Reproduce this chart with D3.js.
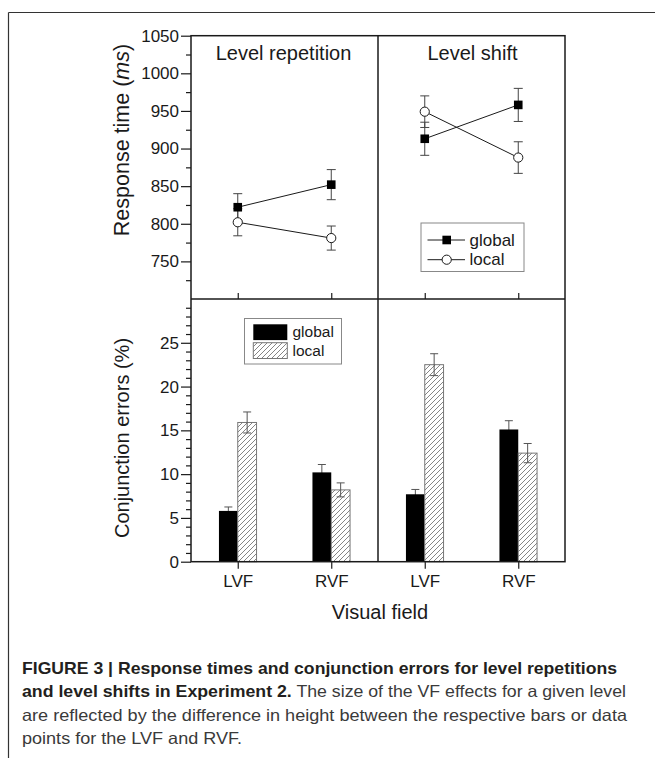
<!DOCTYPE html>
<html>
<head>
<meta charset="utf-8">
<script src="https://cdn.jsdelivr.net/npm/d3@7"></script>
<style>
  body { margin: 0; background: #fff; }
  svg { display: block; font-family: "Liberation Sans", Arial, sans-serif; }
</style>
</head>
<body>
<script>
// values
var fields = ["LVF", "RVF"];
var conditions = ["Level repetition", "Level shift"];
var levels = ["global", "local"];

// response times (ms), [condition][field]
var rtGlobal = [[822, 852], [913, 958]];
var rtGlobalErr = [[18, 20], [22, 22]];
var rtLocal = [[802, 781], [949, 888]];
var rtLocalErr = [[18, 16], [21, 21]];

// conjunction errors (%), [condition][field]
var ceGlobal = [[5.8, 10.2], [7.7, 15.1]];
var ceGlobalErr = [[0.45, 0.9], [0.55, 1.0]];
var ceLocal = [[15.9, 8.2], [22.5, 12.4]];
var ceLocalErr = [[1.2, 0.8], [1.25, 1.1]];

var rtMajor = [750, 800, 850, 900, 950, 1000, 1050];
var ceMajor = [0, 5, 10, 15, 20, 25];

var captionLines = [
  [{t: "FIGURE 3 | Response times and conjunction errors for level repetitions", b: true}],
  [{t: "and level shifts in Experiment 2.", b: true}, {t: " The size of the VF effects for a given level", b: false}],
  [{t: "are reflected by the difference in height between the respective bars or data", b: false}],
  [{t: "points for the LVF and RVF.", b: false}]
];
var captionEnds = [617, 626, 627, 242];

var width = 655, height = 758;
var ink = "#1a1a1a";

var svg = d3.select("body").append("svg")
    .attr("width", width)
    .attr("height", height);

var defs = svg.append("defs");
var hatch = defs.append("pattern")
    .attr("id", "hatch")
    .attr("patternUnits", "userSpaceOnUse")
    .attr("width", 5)
    .attr("height", 5);
hatch.append("rect").attr("width", 5).attr("height", 5).attr("fill", "#fff");
hatch.append("path")
    .attr("d", "M-1,1 L1,-1 M0,5 L5,0 M4,6 L6,4")
    .attr("stroke", "#666")
    .attr("stroke-width", 0.8);

// outer frame lines
svg.append("line").attr("x1", 8.5).attr("x2", width).attr("y1", 12.5).attr("y2", 12.5)
    .attr("stroke", "#333").attr("stroke-width", 1.2);
svg.append("line").attr("x1", 8.5).attr("x2", 8.5).attr("y1", 12.5).attr("y2", height)
    .attr("stroke", "#333").attr("stroke-width", 1.2);

var panelX = [[191, 378], [378, 565]];
var topY = 35.7, midY = 299, botY = 561.7;

var yRT = d3.scaleLinear().domain([700, 1050]).range([midY, topY]);
var yCE = d3.scaleLinear().domain([0, 30]).range([botY, midY]);

var xs = panelX.map(function(r) {
  return d3.scalePoint().domain(fields).range(r).padding(0.5);
});

// y axes
function yAxis(scale, major, minor) {
  var g = svg.append("g").attr("transform", "translate(" + panelX[0][0] + ",0)");
  g.append("g").call(d3.axisLeft(scale).tickValues(minor).tickSize(5).tickFormat(""));
  g.append("g").call(d3.axisLeft(scale).tickValues(major).tickSize(10).tickPadding(2).tickFormat(d3.format("d")));
  g.selectAll(".domain").remove();
  g.selectAll(".tick line").attr("stroke", ink).attr("stroke-width", 1.2);
  g.selectAll("g").attr("font-size", 17).attr("font-family", "Liberation Sans, Arial, sans-serif");
  g.selectAll(".tick text").attr("fill", ink);
}
yAxis(yRT, rtMajor, d3.range(725, 1050, 25).filter(function(v) { return rtMajor.indexOf(v) < 0; }));
yAxis(yCE, ceMajor, d3.range(1, 30, 1).filter(function(v) { return ceMajor.indexOf(v) < 0; }));

// x axes
xs.forEach(function(x) {
  var gt = svg.append("g").attr("transform", "translate(0," + midY + ")")
      .call(d3.axisTop(x).tickSize(6).tickFormat(""));
  var gb = svg.append("g").attr("transform", "translate(0," + botY + ")")
      .call(d3.axisBottom(x).tickSize(7).tickPadding(6));
  [gt, gb].forEach(function(g) {
    g.select(".domain").remove();
    g.attr("font-size", 17).attr("font-family", "Liberation Sans, Arial, sans-serif");
    g.selectAll(".tick line").attr("stroke", ink).attr("stroke-width", 1.2);
    g.selectAll(".tick text").attr("fill", ink);
  });
});

// panel titles
conditions.forEach(function(c, i) {
  svg.append("text")
      .attr("x", (panelX[i][0] + panelX[i][1]) / 2 + (i == 0 ? -1 : 1))
      .attr("y", 59.5)
      .attr("text-anchor", "middle")
      .attr("font-size", 20)
      .attr("fill", ink)
      .text(c);
});

// error bar helper
function errBar(g, x, y, v, e, cap, color, lowColor) {
  g.append("line").attr("x1", x).attr("x2", x).attr("y1", y(v)).attr("y2", y(v + e))
      .attr("stroke", color).attr("stroke-width", 1);
  g.append("line").attr("x1", x).attr("x2", x).attr("y1", y(v - e)).attr("y2", y(v))
      .attr("stroke", lowColor || color).attr("stroke-width", 1);
  [[v - e, lowColor || color], [v + e, color]].forEach(function(w) {
    g.append("line").attr("x1", x - cap / 2).attr("x2", x + cap / 2)
        .attr("y1", y(w[0])).attr("y2", y(w[0]))
        .attr("stroke", w[1]).attr("stroke-width", 1);
  });
}

// bars (bottom panels)
var bw = 18.8;
conditions.forEach(function(c, i) {
  var x = xs[i];
  var g = svg.append("g");
  fields.forEach(function(f, j) {
    var cx = x(f);
    g.append("rect").attr("x", cx - bw).attr("y", yCE(ceGlobal[i][j]))
        .attr("width", bw).attr("height", yCE(0) - yCE(ceGlobal[i][j]))
        .attr("fill", "#000");
    g.append("rect").attr("x", cx).attr("y", yCE(ceLocal[i][j]))
        .attr("width", bw).attr("height", yCE(0) - yCE(ceLocal[i][j]))
        .attr("fill", "url(#hatch)").attr("stroke", "#777").attr("stroke-width", 1);
    errBar(g, cx - bw / 2, yCE, ceGlobal[i][j], ceGlobalErr[i][j], 8, "#555", "#000");
    errBar(g, cx + bw / 2, yCE, ceLocal[i][j], ceLocalErr[i][j], 8, "#555");
  });
});

// lines and markers (top panels)
conditions.forEach(function(c, i) {
  var x = xs[i];
  var g = svg.append("g");
  var line = d3.line().x(function(d, j) { return x(fields[j]); }).y(function(d) { return yRT(d); });
  fields.forEach(function(f, j) {
    errBar(g, x(f), yRT, rtGlobal[i][j], rtGlobalErr[i][j], 9, "#444");
    errBar(g, x(f), yRT, rtLocal[i][j], rtLocalErr[i][j], 9, "#444");
  });
  g.append("path").attr("d", line(rtGlobal[i])).attr("fill", "none").attr("stroke", ink).attr("stroke-width", 1);
  g.append("path").attr("d", line(rtLocal[i])).attr("fill", "none").attr("stroke", ink).attr("stroke-width", 1);
  fields.forEach(function(f, j) {
    g.append("rect").attr("x", x(f) - 4.3).attr("y", yRT(rtGlobal[i][j]) - 4.3)
        .attr("width", 8.6).attr("height", 8.6).attr("fill", "#000");
    g.append("circle").attr("cx", x(f)).attr("cy", yRT(rtLocal[i][j])).attr("r", 4.6)
        .attr("fill", "#fff").attr("stroke", ink).attr("stroke-width", 1);
  });
});

// plot frame
svg.append("rect").attr("x", panelX[0][0]).attr("y", topY)
    .attr("width", panelX[1][1] - panelX[0][0]).attr("height", botY - topY)
    .attr("fill", "none").attr("stroke", ink).attr("stroke-width", 1.5);
svg.append("line").attr("x1", panelX[0][0]).attr("x2", panelX[1][1]).attr("y1", midY).attr("y2", midY)
    .attr("stroke", ink).attr("stroke-width", 1.5);
svg.append("line").attr("x1", panelX[0][1]).attr("x2", panelX[0][1]).attr("y1", topY).attr("y2", botY)
    .attr("stroke", ink).attr("stroke-width", 1.5);

// legend, top
var lt = svg.append("g");
lt.append("rect").attr("x", 421).attr("y", 223).attr("width", 103).attr("height", 48.5)
    .attr("fill", "#fff").attr("stroke", "#888").attr("stroke-width", 1);
levels.forEach(function(l, k) {
  var ly = 240 + k * 19.7;
  lt.append("line").attr("x1", 427.5).attr("x2", 465).attr("y1", ly).attr("y2", ly)
      .attr("stroke", ink).attr("stroke-width", 1);
  if (k == 0) {
    lt.append("rect").attr("x", 446.7 - 4.3).attr("y", ly - 4.3).attr("width", 8.6).attr("height", 8.6).attr("fill", "#000");
  } else {
    lt.append("circle").attr("cx", 446.7).attr("cy", ly).attr("r", 4.6)
        .attr("fill", "#fff").attr("stroke", ink).attr("stroke-width", 1);
  }
  lt.append("text").attr("x", 469.5).attr("y", ly + 5.5).attr("font-size", 17).attr("fill", ink).text(l);
});

// legend, bottom
var lb = svg.append("g");
lb.append("rect").attr("x", 244.5).attr("y", 318.5).attr("width", 97).attr("height", 45.5)
    .attr("fill", "#fff").attr("stroke", "#888").attr("stroke-width", 1);
levels.forEach(function(l, k) {
  var sy = 324.3 + k * 18.4;
  lb.append("rect").attr("x", 253.3).attr("y", sy).attr("width", 34).attr("height", 15.8)
      .attr("fill", k == 0 ? "#000" : "url(#hatch)")
      .attr("stroke", k == 0 ? "none" : "#777").attr("stroke-width", 1);
  lb.append("text").attr("x", 292.5).attr("y", sy + 12.8).attr("font-size", 15.5).attr("fill", ink).text(l);
});

// axis titles
var t1 = svg.append("text")
    .attr("transform", "translate(129,140) rotate(-90)")
    .attr("text-anchor", "middle")
    .attr("font-size", 21.5)
    .attr("fill", ink);
t1.append("tspan").text("Response time (");
t1.append("tspan").attr("font-style", "italic").text("ms");
t1.append("tspan").text(")");

svg.append("text")
    .attr("transform", "translate(129,438) rotate(-90)")
    .attr("text-anchor", "middle")
    .attr("font-size", 20)
    .attr("fill", ink)
    .text("Conjunction errors (%)");

svg.append("text")
    .attr("x", 380).attr("y", 619)
    .attr("text-anchor", "middle")
    .attr("font-size", 20)
    .attr("fill", ink)
    .text("Visual field");

// caption
var capBase = [673.5, 697, 720.5, 744];
captionLines.forEach(function(parts, i) {
  var t = svg.append("text")
      .attr("x", 22).attr("y", capBase[i])
      .attr("font-size", 16.5)
      .attr("textLength", captionEnds[i] - 22)
      .attr("lengthAdjust", "spacingAndGlyphs");
  parts.forEach(function(p) {
    t.append("tspan")
        .attr("font-weight", p.b ? "bold" : "normal")
        .attr("fill", p.b ? "#231f20" : "#3a3a3a")
        .text(p.t);
  });
});
</script>
</body>
</html>
